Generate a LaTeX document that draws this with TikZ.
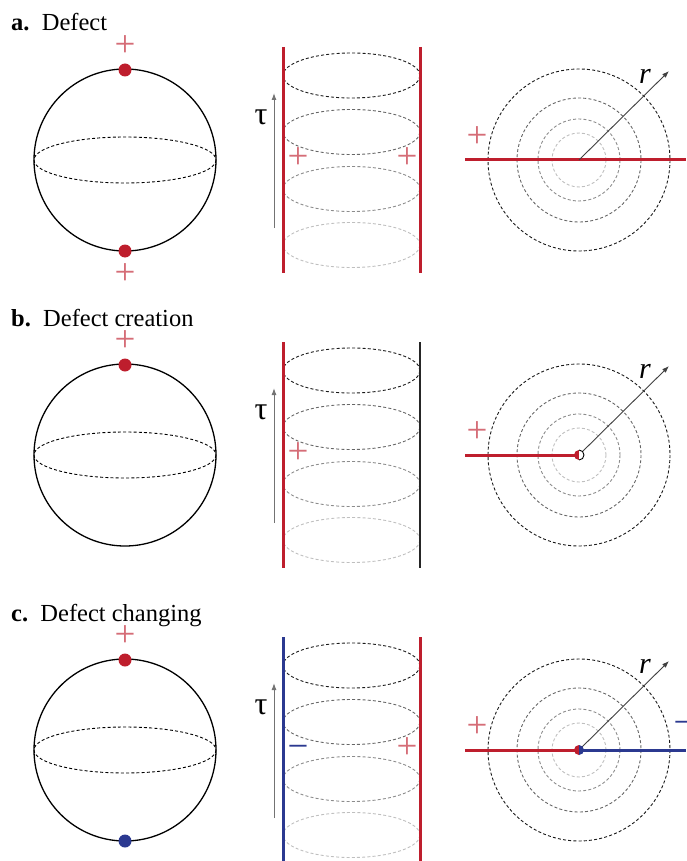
\documentclass[tikz,border=0pt]{standalone}
\usepackage{fontspec}
\setmainfont{Liberation Serif}
\usetikzlibrary{arrows.meta}
\definecolor{defred}{RGB}{190,30,45}
\definecolor{defblue}{RGB}{43,57,144}
\begin{document}
\begin{tikzpicture}[x=1pt, y=-1pt,
        >={Latex[length=7pt, width=5pt]},   % arrow tips
        font=\fontsize{24.5}{28}\selectfont,
        titel/.style={anchor=base west, inner sep=0pt},
        kugel/.style={line width=1.3pt},
        ring/.style={dash pattern=on 3pt off 2.2pt, line width=0.9pt},
        punkt/.style={circle, fill=#1, inner sep=0pt, minimum size=13pt},
        plus/.style={text=defred!65, font=\fontsize{37}{37}\selectfont, inner sep=0pt},
        minus/.style={text=defblue, font=\fontsize{37}{37}\selectfont, inner sep=0pt},
        linie/.style={line width=3pt},
        zeit/.style={->, black!55, line width=1pt},
        radial/.style={->, black!75, line width=0.9pt},
        tau/.style={font=\fontsize{32}{32}\selectfont, inner sep=0pt},
        rad/.style={font=\fontsize{30}{30}\itshape, inner sep=0pt}]
    \useasboundingbox (0,0) rectangle (686,861);
    % a. Defect
    \node[titel] (ta) at (11,31) {\textbf{a.}\enspace Defect};
    \draw[kugel] (125,160) circle [radius=91];
    \draw[ring] (125,160) ellipse [x radius=91, y radius=23];
    \node[punkt=defred] (pa1) at (125,70) {};
    \node[punkt=defred] (pa2) at (125,251) {};
    \node[plus] (sa1) at (125,46) {+};
    \node[plus] (sa2) at (125,274) {+};
    % Zylinder
    \foreach \yy/\farbe in {75.5/black!90, 132/black!60, 189/black!45, 245/black!25}
        \draw[ring, \farbe] (351.5,\yy) ellipse [x radius=68.5, y radius=22.5];
    \draw[linie, defred] (283,47) -- (283,273);
    \draw[linie, defred] (420,47) -- (420,273);
    \coordinate (za0) at (274,228);
    \coordinate (za1) at (274,93);
    \draw[zeit] (za0) -- (za1);
    \node[tau] (tau1) at (261,117) {τ};
    \node[plus] (sa3) at (298,158) {+};
    \node[plus] (sa4) at (407,158) {+};
    % Querschnitt
    \coordinate (ma) at (579,160);
    \foreach \rr/\farbe in {91/black!90, 62/black!60, 41/black!45, 27/black!25}
        \draw[ring, \farbe] (ma) circle [radius=\rr];
    \coordinate (la0) at (465,160);
    \coordinate (la1) at (686,160);
    \draw[linie, defred] (la0) -- (la1);
    \coordinate (ra) at (669,71);
    \draw[radial] (ma) -- (ra);
    \node[rad] (rla) at (645,76) {r};
    \node[plus] (sa5) at (477,137) {+};

    % b. Defect creation
    \begin{scope}[shift={(0,295)}]
        \node[titel] (tb) at (11,31) {\textbf{b.}\enspace Defect creation};
        \draw[kugel] (125,160) circle [radius=91];
        \draw[ring] (125,160) ellipse [x radius=91, y radius=23];
        \node[punkt=defred] (pb1) at (125,70) {};
        \node[plus] (sb1) at (125,46) {+};
        % Zylinder
        \foreach \yy/\farbe in {75.5/black!90, 132/black!60, 189/black!45, 245/black!25}
            \draw[ring, \farbe] (351.5,\yy) ellipse [x radius=68.5, y radius=22.5];
        \draw[linie, defred] (283,47) -- (283,273);
        \draw[kugel, black!85] (420,47) -- (420,273);
        \coordinate (zb0) at (274,228);
        \coordinate (zb1) at (274,93);
        \draw[zeit] (zb0) -- (zb1);
        \node[tau] (tau2) at (261,117) {τ};
        \node[plus] (sb3) at (298,158) {+};
        % Querschnitt
        \coordinate (mb) at (579,160);
        \foreach \rr/\farbe in {91/black!90, 62/black!60, 41/black!45, 27/black!25}
            \draw[ring, \farbe] (mb) circle [radius=\rr];
        \coordinate (lb0) at (465,160);
        \draw[linie, defred] (lb0) -- (mb);
        \coordinate (rb) at (669,71);
        \draw[radial] (mb) -- (rb);
        \fill[defred] (mb) ++(0,-5) arc [start angle=270, end angle=90, radius=5] -- cycle;
        \fill[white] (mb) ++(0,-5) arc [start angle=-90, end angle=90, radius=5] -- cycle;
        \draw[black, line width=0.9pt] (mb) ++(0,-5) arc [start angle=-90, end angle=90, radius=5];
        \node[rad] (rlb) at (645,76) {r};
        \node[plus] (sb5) at (477,137) {+};
    \end{scope}

    % c. Defect changing
    \begin{scope}[shift={(0,590)}]
        \node[titel] (tc) at (11,31) {\textbf{c.}\enspace Defect changing};
        \draw[kugel] (125,160) circle [radius=91];
        \draw[ring] (125,160) ellipse [x radius=91, y radius=23];
        \node[punkt=defred] (pc1) at (125,70) {};
        \node[punkt=defblue] (pc2) at (125,251) {};
        \node[plus] (sc1) at (125,46) {+};
        % Zylinder
        \foreach \yy/\farbe in {75.5/black!90, 132/black!60, 189/black!45, 245/black!25}
            \draw[ring, \farbe] (351.5,\yy) ellipse [x radius=68.5, y radius=22.5];
        \draw[linie, defblue] (283,47) -- (283,273);
        \draw[linie, defred] (420,47) -- (420,273);
        \coordinate (zc0) at (274,228);
        \coordinate (zc1) at (274,93);
        \draw[zeit] (zc0) -- (zc1);
        \node[tau] (tau3) at (261,117) {τ};
        \node[minus] (sc3) at (298,162) {−};
        \node[plus] (sc4) at (407,158) {+};
        % Querschnitt
        \coordinate (mc) at (579,160);
        \foreach \rr/\farbe in {91/black!90, 62/black!60, 41/black!45, 27/black!25}
            \draw[ring, \farbe] (mc) circle [radius=\rr];
        \coordinate (lc0) at (465,160);
        \coordinate (lc1) at (686,160);
        \draw[linie, defred] (lc0) -- (mc);
        \draw[linie, defblue] (mc) -- (lc1);
        \coordinate (rc) at (669,71);
        \draw[radial] (mc) -- (rc);
        \fill[defred] (mc) ++(0,-5) arc [start angle=270, end angle=90, radius=5] -- cycle;
        \fill[defblue] (mc) ++(0,-5) arc [start angle=-90, end angle=90, radius=5] -- cycle;
        \node[rad] (rlc) at (645,76) {r};
        \node[plus] (sc5) at (477,137) {+};
        \node[minus] (sc6) at (684,138) {−};
    \end{scope}
\end{tikzpicture}
\end{document}
